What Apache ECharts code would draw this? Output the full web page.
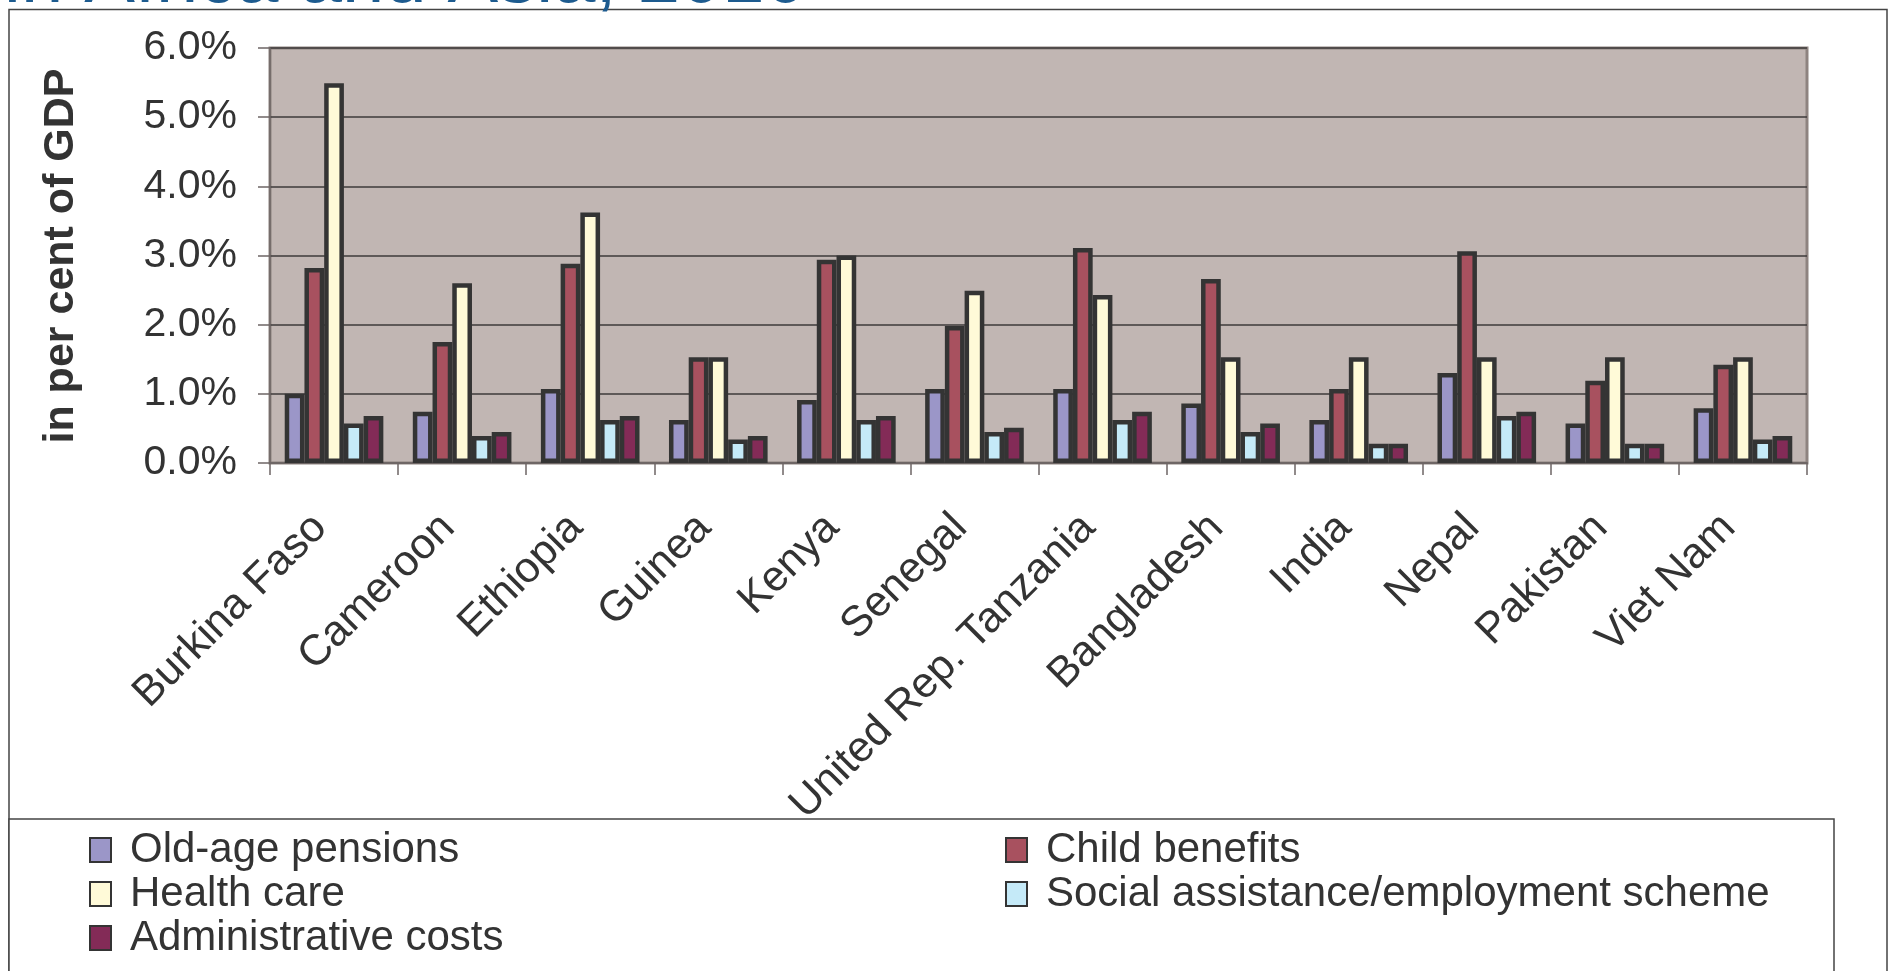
<!DOCTYPE html>
<html>
<head>
<meta charset="utf-8">
<script src="https://cdn.jsdelivr.net/npm/echarts@6/dist/echarts.min.js"></script>
<style>
  html, body { margin: 0; padding: 0; background: #ffffff; }
  #chart { width: 1889px; height: 971px; }
</style>
</head>
<body>
<div id="chart"></div>
<script>
// Countries on the category axis
const countries = [
  'Burkina Faso', 'Cameroon', 'Ethiopia', 'Guinea', 'Kenya', 'Senegal',
  'United Rep. Tanzania', 'Bangladesh', 'India', 'Nepal', 'Pakistan', 'Viet Nam'
];

// Cost of each component, in per cent of GDP
const oldAgePensions = [1.00, 0.74, 1.07, 0.62, 0.91, 1.07, 1.07, 0.86, 0.62, 1.30, 0.57, 0.79];
const childBenefits  = [2.82, 1.75, 2.88, 1.53, 2.94, 1.98, 3.11, 2.66, 1.07, 3.06, 1.19, 1.42];
const healthCare     = [5.49, 2.60, 3.62, 1.53, 3.00, 2.49, 2.43, 1.53, 1.53, 1.53, 1.53, 1.53];
const socialAssist   = [0.57, 0.39, 0.62, 0.34, 0.62, 0.45, 0.62, 0.45, 0.28, 0.68, 0.28, 0.34];
const adminCosts     = [0.68, 0.45, 0.68, 0.39, 0.68, 0.51, 0.74, 0.57, 0.28, 0.74, 0.28, 0.39];

// Value axis ticks
const yMin = 0, yMax = 6, yStep = 1;

const seriesNames = [
  'Old-age pensions', 'Child benefits', 'Health care',
  'Social assistance/employment scheme', 'Administrative costs'
];
const seriesData = [oldAgePensions, childBenefits, healthCare, socialAssist, adminCosts];
const seriesColors = ['#9b96c8', '#a8515f', '#fffad8', '#c5eaf8', '#832b57'];

const FONT = '"Liberation Sans", Arial, sans-serif';
const TEXT = '#333333';

const chart = echarts.init(document.getElementById('chart'), null, { renderer: 'canvas' });

const legendCommon = {
  orient: 'vertical',
  top: 829,
  itemWidth: 21,
  itemHeight: 24,
  itemGap: 2,
  icon: 'rect',
  selectedMode: false,
  padding: 0,
  textStyle: {
    fontFamily: FONT, fontSize: 42, color: TEXT, lineHeight: 42,
    padding: [0, 0, 0, 14]
  }
};

chart.setOption({
  animation: false,
  backgroundColor: '#ffffff',
  textStyle: { fontFamily: FONT },
  grid: {
    left: 270, top: 48, width: 1537, height: 415,
    show: true,
    backgroundColor: '#c1b6b3',
    borderColor: '#8e8380',
    borderWidth: 3
  },
  legend: [
    Object.assign({}, legendCommon, {
      left: 89,
      data: ['Old-age pensions', 'Health care', 'Administrative costs']
    }),
    Object.assign({}, legendCommon, {
      left: 1005,
      data: ['Child benefits', 'Social assistance/employment scheme']
    })
  ],
  xAxis: {
    type: 'category',
    data: countries,
    axisLine: { show: true, lineStyle: { color: '#6e6665', width: 2 } },
    axisTick: { show: true, length: 12, lineStyle: { color: '#6e6665', width: 1.5 } },
    axisLabel: {
      interval: 0, rotate: 45, margin: 44,
      fontFamily: FONT, fontSize: 43, color: TEXT,
      padding: [0, 20, 0, 0]
    },
    splitLine: { show: false }
  },
  yAxis: {
    type: 'value',
    min: yMin, max: yMax, interval: yStep,
    axisLine: { show: true, lineStyle: { color: '#6e6665', width: 1.5 } },
    axisTick: { show: true, length: 12, lineStyle: { color: '#6e6665', width: 1.5 } },
    axisLabel: {
      margin: 33,
      fontFamily: FONT, fontSize: 41, color: TEXT,
      formatter: v => v.toFixed(1) + '%'
    },
    splitLine: { show: true, lineStyle: { color: '#3d3a3a', width: 1.5 } }
  },
  series: seriesNames.map((name, i) => ({
    name: name,
    type: 'bar',
    data: seriesData[i],
    barGap: '0%',
    barCategoryGap: '23%',
    itemStyle: {
      color: seriesColors[i],
      borderColor: '#343434',
      borderWidth: 4.5
    }
  })),
  graphic: [
    // heading line cut at the top edge
    {
      type: 'text', x: 4, y: -19, z: 1,
      style: {
        text: 'in Africa and Asia, 2010',
        font: '76px ' + FONT,
        fill: '#1d5b8f',
        align: 'left', verticalAlign: 'middle'
      }
    },
    // outer chart frame
    {
      type: 'rect', z: 0, silent: true,
      shape: { x: 9, y: 9.5, width: 1878, height: 990 },
      style: { fill: 'none', stroke: '#444444', lineWidth: 1.5 }
    },
    // legend box
    {
      type: 'rect', z: 0, silent: true,
      shape: { x: 9, y: 819, width: 1825, height: 200 },
      style: { fill: '#ffffff', stroke: '#444444', lineWidth: 1.5 }
    },
    // value axis title
    {
      type: 'text', x: 61, y: 256, rotation: Math.PI / 2, z: 2,
      style: {
        text: 'in per cent of GDP',
        font: 'bold 43px ' + FONT,
        fill: TEXT,
        align: 'center', verticalAlign: 'middle'
      }
    }
  ]
});
</script>
</body>
</html>
